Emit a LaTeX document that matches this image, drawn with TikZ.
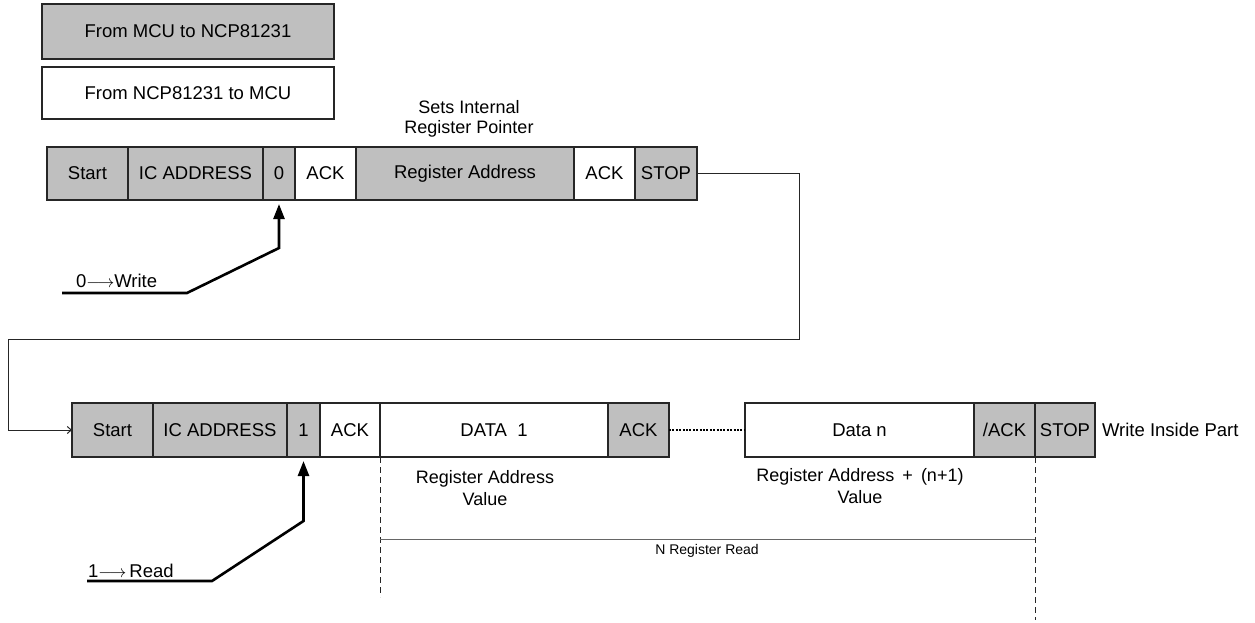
\documentclass[tikz,border=0pt]{standalone}
\usepackage{fontspec}
\setmainfont{Liberation Sans}
\usetikzlibrary{positioning}
\usetikzlibrary{arrows.meta}

\begin{document}
\begin{tikzpicture}[x=1pt, y=-1pt, font=\fontsize{18.5}{21}\selectfont,
    cell/.style={draw=black!85, line width=1.2pt, minimum height=54pt, inner sep=0pt, outer sep=0pt},
    host/.style={cell, fill=gray!50},
    part/.style={cell, fill=white},
    note/.style={align=center, font=\fontsize{18}{22}\selectfont},
    bitarrow/.style={line width=2.6pt, -{Triangle[length=15pt,width=11pt]}, shorten >=4pt}]
            \useasboundingbox (0,0) rectangle (1255,623);

            % Legend
            \node[host, minimum width=292pt, minimum height=55pt] (tohost) at (188,31.5) {From MCU to NCP81231};
            \node[part, minimum width=292pt, minimum height=52pt] (topart) at (188,93) {From NCP81231 to MCU};

            % Pointer write frame
            \node[note, font=\fontsize{18}{20}\selectfont, anchor=south] (pointer) at (469,141) {Sets Internal\\Register Pointer};
            \node[host, minimum width=81pt, minimum height=53pt, anchor=west] (start1) at (47,173.5) {Start};
            \node[host, minimum width=135pt, minimum height=53pt, right=0pt of start1] (addr1) {IC ADDRESS};
            \node[host, minimum width=32pt, minimum height=53pt, right=0pt of addr1] (bit0) {0};
            \node[part, minimum width=61pt, minimum height=53pt, right=0pt of bit0] (ack1) {ACK};
            \node[host, minimum width=218pt, minimum height=53pt, right=0pt of ack1] (reg1) {Register Address};
            \node[part, minimum width=61pt, minimum height=53pt, right=0pt of reg1] (ack2) {ACK};
            \node[host, minimum width=62pt, minimum height=53pt, right=0pt of ack2] (stop1) {STOP};

            \node[anchor=base west, inner sep=0pt] (wrlabel) at (76,287) {0$\longrightarrow$Write};
            \coordinate (w0) at (62,293);
            \coordinate (w1) at (187,293);
            \coordinate (w2) at (279,248);
            \draw[bitarrow] (w0) -- (w1) -- (w2) -- (bit0.south);

            % Read frame
            \node[host, minimum width=81pt, anchor=west] (start2) at (72,430) {Start};
            \node[host, minimum width=134pt, right=0pt of start2] (addr2) {IC ADDRESS};
            \node[host, minimum width=33pt, right=0pt of addr2] (bit1) {1};
            \node[part, minimum width=60pt, right=0pt of bit1] (ack3) {ACK};
            \node[part, minimum width=228pt, right=0pt of ack3] (data1) {DATA\ \ 1};
            \node[host, minimum width=61pt, right=0pt of data1] (ack4) {ACK};
            \node[part, minimum width=229pt, anchor=west] (datan) at (745,430) {Data n};
            \node[host, minimum width=61pt, right=0pt of datan] (nack) {/ACK};
            \node[host, minimum width=60pt, right=0pt of nack] (stop2) {STOP};
            \node[anchor=west] (inside) at (1098.5,430) {Write Inside Part};

            \draw[line width=1.8pt, dash pattern=on 2pt off 1.4pt] (ack4.east) -- (datan.west);

            \node[note, anchor=north] (val1) at (485,466.5) {Register Address\\Value};
            \node[note, anchor=north] (valn) at (860,464.5) {Register Address \,+\, (n+1)\\Value};

            \node[anchor=base west, inner sep=0pt] (rdlabel) at (88,577) {1$\longrightarrow$\,Read};
            \coordinate (r0) at (87,581);
            \coordinate (r1) at (212,581);
            \coordinate (r2) at (303.5,521);
            \draw[bitarrow] (r0) -- (r1) -- (r2) -- (bit1.south);

            % Span of the read
            \coordinate (cutA) at (380,597);
            \coordinate (cutB) at (1035,620);
            \draw[black!85, line width=0.9pt, dash pattern=on 6pt off 4pt] (data1.south west) -- (cutA);
            \draw[black!85, line width=0.9pt, dash pattern=on 6pt off 4pt] (stop2.south west) -- (cutB);
            \coordinate (spanA) at (380,539);
            \coordinate (spanB) at (1035,539);
            \draw[black!60, line width=1pt] (spanA) -- (spanB);
            \node[anchor=north, font=\fontsize{14}{16}\selectfont] (count) at (707,541) {N Register Read};

            % Link between the frames
            \coordinate (fold1) at (799,339);
            \coordinate (fold2) at (8,339);
            \draw[black!85, line width=1pt, -{Straight Barb[length=4pt,width=7pt]}] (stop1.east) -| (fold1) -- (fold2) |- (start2.west);
        \end{tikzpicture}
\end{document}
